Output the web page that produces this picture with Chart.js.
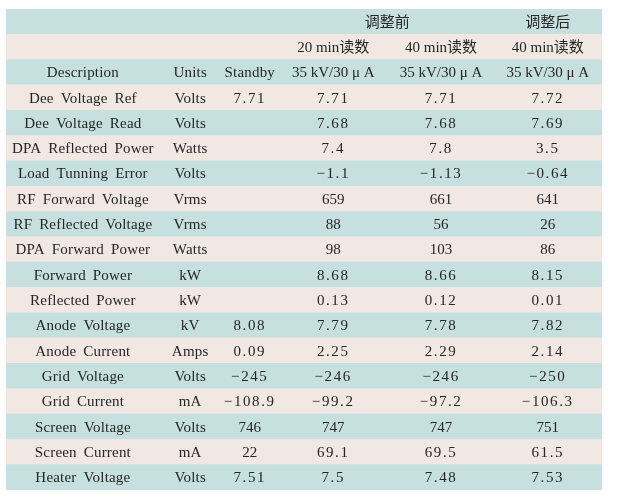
<!DOCTYPE html>
<html>
<head>
<meta charset="utf-8">
<script src="https://cdn.jsdelivr.net/npm/chart.js@4"></script>
<style>
  html, body { margin: 0; padding: 0; background: #fff; }
  #wrap { width: 635px; height: 498px; }
</style>
</head>
<body>
<div id="wrap"><canvas id="tableChart" width="635" height="498"></canvas></div>
<script>
// ==========================================
// DATA
// ==========================================
var headerGroups = ['调整前', '调整后'];
var readTimes = ['20 min读数', '40 min读数', '40 min读数'];
var columnTitles = ['Description', 'Units', 'Standby', '35 kV/30 μ A', '35 kV/30 μ A', '35 kV/30 μ A'];

var descriptions = [
    'Dee Voltage Ref', 'Dee Voltage Read', 'DPA Reflected Power', 'Load Tunning Error',
    'RF Forward Voltage', 'RF Reflected Voltage', 'DPA Forward Power', 'Forward Power',
    'Reflected Power', 'Anode Voltage', 'Anode Current', 'Grid Voltage', 'Grid Current',
    'Screen Voltage', 'Screen Current', 'Heater Voltage'
];
var units = [
    'Volts', 'Volts', 'Watts', 'Volts', 'Vrms', 'Vrms', 'Watts', 'kW',
    'kW', 'kV', 'Amps', 'Volts', 'mA', 'Volts', 'mA', 'Volts'
];
var standby = [
    '7.71', '', '', '', '', '', '', '',
    '', '8.08', '0.09', '−245', '−108.9', '746', '22', '7.51'
];
var before20 = [
    '7.71', '7.68', '7.4', '−1.1', '659', '88', '98', '8.68',
    '0.13', '7.79', '2.25', '−246', '−99.2', '747', '69.1', '7.5'
];
var before40 = [
    '7.71', '7.68', '7.8', '−1.13', '661', '56', '103', '8.66',
    '0.12', '7.78', '2.29', '−246', '−97.2', '747', '69.5', '7.48'
];
var after40 = [
    '7.72', '7.69', '3.5', '−0.64', '641', '26', '86', '8.15',
    '0.01', '7.82', '2.14', '−250', '−106.3', '751', '61.5', '7.53'
];

// ==========================================
// LAYOUT (x scale runs 0..100 across the table)
// ==========================================
var colCenters = [12.9, 30.9, 40.9, 54.9, 73.0, 90.9];
var groupCenters = [63.95, 90.9];
var headerRows = 3;
var rowCount = headerRows + descriptions.length;
var rowLabels = [];
var rowSpans = [];
var rowColors = [];
for (var i = 0; i < rowCount; i++) {
    rowLabels.push('r' + i);
    rowSpans.push([0, 100]);
    rowColors.push(i % 2 === 0 ? '#c6e0e0' : '#f1e7e3');
}

function cellRows() {
    var rows = [];
    rows.push([null, null, null, null, null, null]);
    rows.push(['', '', ''].concat(readTimes));
    rows.push(columnTitles.slice());
    for (var r = 0; r < descriptions.length; r++) {
        rows.push([descriptions[r], units[r], standby[r], before20[r], before40[r], after40[r]]);
    }
    return rows;
}

// ==========================================
// TEXT PLUGIN
// ==========================================
var cellTextPlugin = {
    id: 'cellText',
    afterDatasetsDraw: function(chart) {
        var ctx = chart.ctx;
        var xs = chart.scales.x;
        var ys = chart.scales.y;
        var rows = cellRows();
        ctx.save();
        ctx.fillStyle = '#262626';
        ctx.textAlign = 'center';
        ctx.textBaseline = 'middle';

        function draw(text, xv, row, kind) {
            if (!text) return;
            var y = ys.getPixelForValue(row) + 1;
            var x = xs.getPixelForValue(xv);
            ctx.font = '15px "Liberation Serif", "Noto Sans CJK SC", serif';
            ctx.letterSpacing = '0px';
            ctx.wordSpacing = '0px';
            if (kind === 'num' && /[.−]/.test(text)) {
                ctx.letterSpacing = '1.6px';
            } else if (kind === 'word') {
                ctx.letterSpacing = '0.2px';
                ctx.wordSpacing = '3px';
            }
            ctx.fillText(text, x, y);
        }

        draw(headerGroups[0], groupCenters[0], 0, 'head');
        draw(headerGroups[1], groupCenters[1], 0, 'head');

        for (var r = 1; r < rows.length; r++) {
            for (var c = 0; c < rows[r].length; c++) {
                var kind = 'head';
                if (r >= headerRows) kind = c >= 2 ? 'num' : 'word';
                else if (c < 3) kind = 'word';
                draw(rows[r][c], colCenters[c], r, kind);
            }
        }
        ctx.restore();
    }
};

new Chart(document.getElementById('tableChart').getContext('2d'), {
    type: 'bar',
    data: {
        labels: rowLabels,
        datasets: [{
            data: rowSpans,
            backgroundColor: rowColors,
            borderWidth: 0,
            barPercentage: 1,
            categoryPercentage: 1
        }]
    },
    options: {
        indexAxis: 'y',
        responsive: false,
        animation: false,
        layout: { padding: { left: 6, right: 33, top: 9, bottom: 8 } },
        plugins: { legend: { display: false }, tooltip: { enabled: false } },
        scales: {
            x: { type: 'linear', min: 0, max: 100, display: false },
            y: { type: 'category', display: false, offset: true }
        }
    },
    plugins: [cellTextPlugin]
});
</script>
</body>
</html>
